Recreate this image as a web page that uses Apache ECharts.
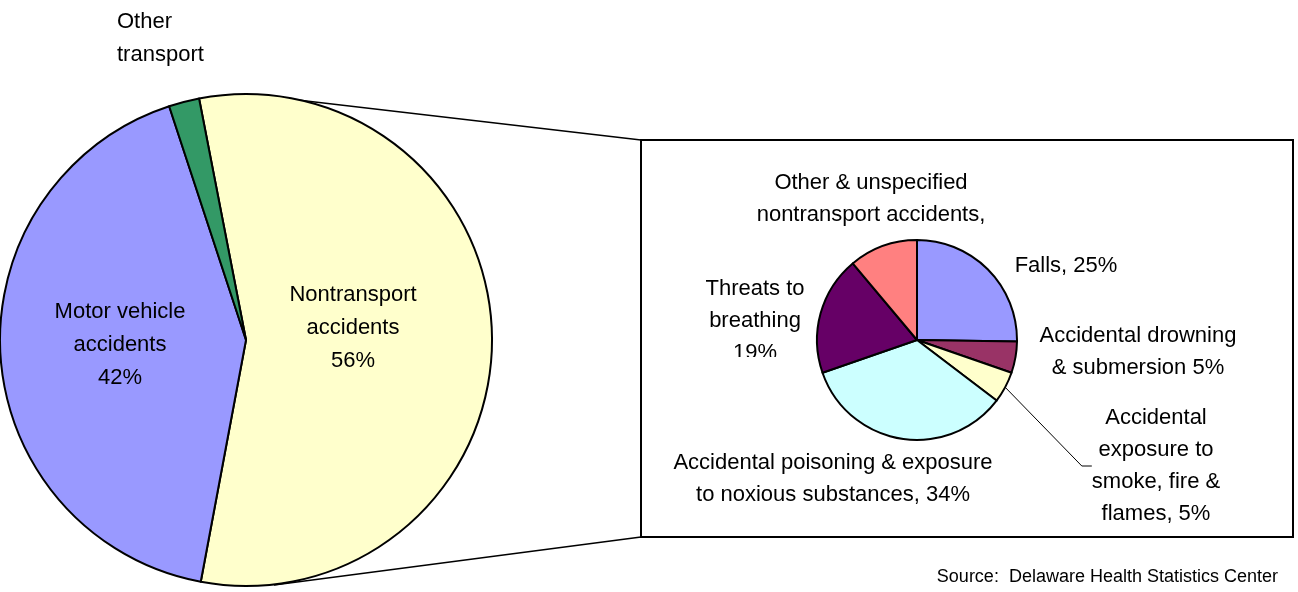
<!DOCTYPE html>
<html>
<head>
<meta charset="utf-8">
<script src="https://cdn.jsdelivr.net/npm/echarts@6/dist/echarts.min.js"></script>
<style>
  html, body { margin: 0; padding: 0; background: #fff; }
  #chart { width: 1298px; height: 592px; }
</style>
</head>
<body>
<div id="chart"></div>
<script>
// big pie: all unintentional injury deaths
const bigNames = ['Nontransport accidents', 'Motor vehicle accidents', 'Other transport'];
const bigValues = [56, 42, 2];
const bigLabels = ['Nontransport\naccidents\n56%', 'Motor vehicle\naccidents\n42%', 'Other\ntransport'];
const bigColors = ['#FFFFCC', '#9999FF', '#339966'];

// small pie: breakdown of nontransport accidents
const subNames = ['Falls', 'Accidental drowning & submersion', 'Accidental exposure to smoke, fire & flames',
  'Accidental poisoning & exposure to noxious substances', 'Threats to breathing',
  'Other & unspecified nontransport accidents'];
const subValues = [25, 5, 5, 34, 19, 11];
const subLabels = ['Falls, 25%', 'Accidental drowning\n& submersion 5%', 'Accidental\nexposure to\nsmoke, fire &\nflames, 5%',
  'Accidental poisoning & exposure\nto noxious substances, 34%', 'Threats to\nbreathing\n19%',
  'Other & unspecified\nnontransport accidents,'];
const subColors = ['#9999FF', '#993366', '#FFFFCC', '#CCFFFF', '#660066', '#FF8080'];

const FONT = "'Liberation Sans', Arial, sans-serif";

// label anchor points (label block centre)
const bigLabelPos = [[353, 328, 'center'], [120, 345, 'center'], [117, 38, 'left']];
const subLabelPos = [[1066, 266], [1138, 352], [1156, 466], [833, 479], [755, 321], [871, 199]];

const chart = echarts.init(document.getElementById('chart'));

const option = {
  animation: false,
  backgroundColor: '#fff',
  graphic: [
    // zoom box round the breakdown
    { type: 'rect', z: 0, shape: { x: 641, y: 140, width: 652, height: 397 },
      style: { fill: '#fff', stroke: '#000', lineWidth: 2 } },
    // connector lines from big pie to box
    { type: 'line', z: 0, shape: { x1: 641, y1: 140, x2: 272, y2: 97 }, style: { stroke: '#000', lineWidth: 1.5 } },
    { type: 'line', z: 0, shape: { x1: 641, y1: 537, x2: 274, y2: 585 }, style: { stroke: '#000', lineWidth: 1.5 } },
    // the "19%" label is clipped in the original
    { type: 'rect', z: 100, shape: { x: 720, y: 357, width: 75, height: 16 }, style: { fill: '#fff' } },
    { type: 'text', right: 20, bottom: 6, z: 10,
      style: { text: 'Source:  Delaware Health Statistics Center', fill: '#000', font: '18px ' + FONT } }
  ],
  series: [
    {
      type: 'pie',
      center: [246, 340],
      radius: 246,
      startAngle: 101,
      avoidLabelOverlap: false,
      itemStyle: { borderColor: '#000', borderWidth: 2 },
      label: {
        show: true,
        color: '#000',
        fontFamily: FONT,
        fontSize: 22,
        lineHeight: 33,
        formatter: (p) => bigLabels[p.dataIndex]
      },
      labelLine: { show: false },
      emphasis: { disabled: true },
      labelLayout: (p) => ({
        x: bigLabelPos[p.dataIndex][0],
        y: bigLabelPos[p.dataIndex][1],
        align: bigLabelPos[p.dataIndex][2],
        verticalAlign: 'middle'
      }),
      data: bigNames.map((n, i) => ({ name: n, value: bigValues[i], itemStyle: { color: bigColors[i] } }))
    },
    {
      type: 'pie',
      center: [917, 340],
      radius: 100,
      startAngle: 90,
      avoidLabelOverlap: false,
      itemStyle: { borderColor: '#000', borderWidth: 2 },
      label: {
        show: true,
        color: '#000',
        fontFamily: FONT,
        fontSize: 22,
        lineHeight: 32,
        align: 'center',
        formatter: (p) => subLabels[p.dataIndex]
      },
      labelLine: { show: false, lineStyle: { color: '#000', width: 1 } },
      emphasis: { disabled: true },
      labelLayout: (p) => ({
        x: subLabelPos[p.dataIndex][0],
        y: subLabelPos[p.dataIndex][1],
        align: 'center',
        verticalAlign: 'middle'
      }),
      data: subNames.map((n, i) => ({
        name: n,
        value: subValues[i],
        itemStyle: { color: subColors[i] },
        labelLine: { show: i === 2, length: 20, length2: 10 }
      }))
    }
  ]
};

chart.setOption(option);
</script>
</body>
</html>
